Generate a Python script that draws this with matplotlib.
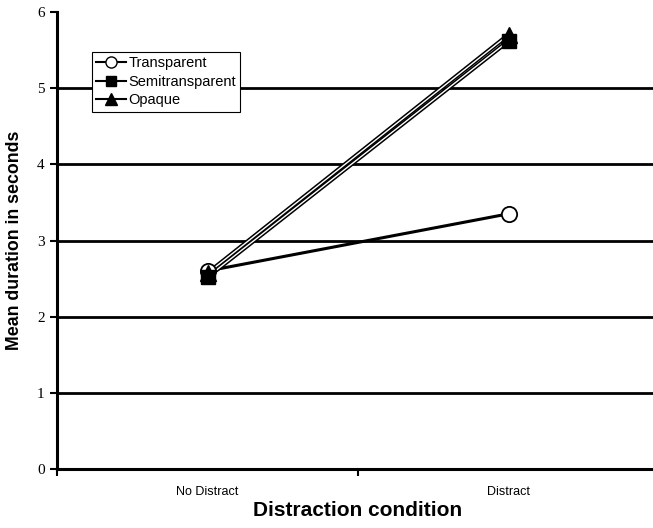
import matplotlib
matplotlib.use("Agg")
import matplotlib.pyplot as plt
from matplotlib.lines import Line2D

categories = ["No Distract", "Distract"]
series_names = ["Transparent", "Semitransparent", "Opaque"]
transparent = [2.60, 3.35]
semitransparent = [2.52, 5.62]
opaque = [2.57, 5.70]
yticks = [0, 1, 2, 3, 4, 5, 6]

W, H = 653, 528
fig = plt.figure(figsize=(W/100, H/100), dpi=100)
ax = fig.add_axes([57/W, (H-469)/H, (659-57)/W, (469-12)/H])

x = list(range(len(categories)))
for v in yticks[1:-1]:
    ax.axhline(v, color="black", lw=2.0, zorder=1)

# Transparent: thick single line
ax.plot(x, transparent, color="black", lw=2.2, zorder=3)
ax.plot(x, transparent, ls="none", marker="o", ms=11, mfc="white", mec="black", mew=1.3, zorder=5)
# Semitransparent and Opaque: double-line look
for vals in [semitransparent, opaque]:
    ax.plot(x, vals, color="black", lw=3.2, zorder=3)
    ax.plot(x, vals, color="white", lw=1.0, zorder=3.5)
ax.plot(x, semitransparent, ls="none", marker="s", ms=10, mfc="black", mec="black", zorder=6)
ax.plot(x, opaque, ls="none", marker="^", ms=11, mfc="black", mec="black", zorder=6)

ax.set_xlim(-0.5, 1.5)
ax.set_ylim(0, 6)
ax.set_yticks(yticks)
ax.set_yticklabels([str(t) for t in yticks], family="Liberation Serif", fontsize=11)
ax.set_xticks([-0.5, 0.5, 1.5])
ax.set_xticklabels([])
ax.set_xticks(x, minor=True)
ax.set_xticklabels(categories, minor=True, family="Liberation Sans", fontsize=9)
ax.tick_params(axis="x", which="minor", length=0, pad=12)
ax.tick_params(axis="x", which="major", length=5, width=1.5, direction="out")
ax.tick_params(axis="y", length=5, width=1.5, direction="out", pad=4)

for s in ["top", "right"]:
    ax.spines[s].set_visible(False)
for s in ["left", "bottom"]:
    ax.spines[s].set_linewidth(2.2)

fig.text(15/W, 1 - 240/H, "Mean duration in seconds", family="Liberation Sans", fontweight="bold",
         fontsize=12.8, rotation=90, ha="center", va="center")
fig.text(358/W, 1 - 510/H, "Distraction condition", family="Liberation Sans", fontweight="bold",
         fontsize=15, ha="center", va="center")

handles = [
    Line2D([], [], color="black", lw=1.5, marker="o", ms=8, mfc="white", mec="black"),
    Line2D([], [], color="black", lw=1.5, marker="s", ms=7, mfc="black"),
    Line2D([], [], color="black", lw=1.5, marker="^", ms=8, mfc="black"),
]
leg = ax.legend(handles, series_names, loc="upper left", bbox_to_anchor=((92-57)/(659-57), (469-52)/(469-12)),
                frameon=True, fancybox=False, edgecolor="black", framealpha=1,
                prop={"family": "Liberation Sans", "size": 10.5},
                handlelength=2.0, handletextpad=0.2, borderpad=0.3, labelspacing=0.3, borderaxespad=0)
leg.get_frame().set_linewidth(0.8)
leg.set_zorder(10)

fig.savefig("out.png", dpi=100)
